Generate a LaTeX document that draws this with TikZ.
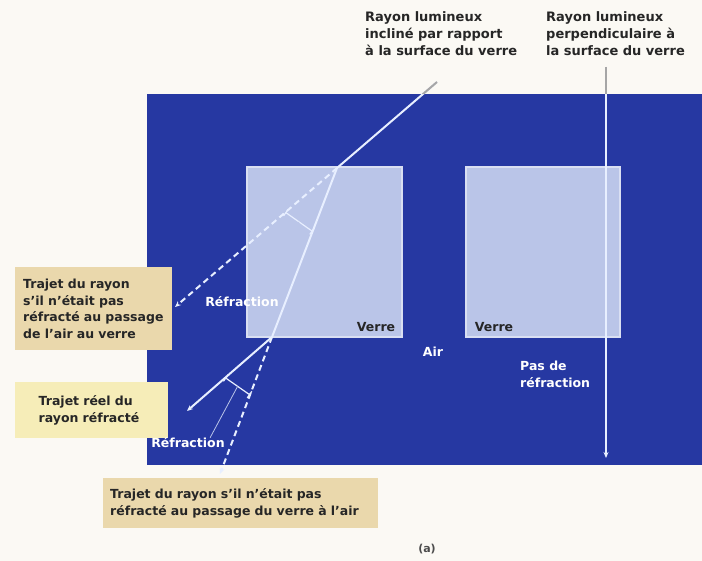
\documentclass[tikz,border=0pt]{standalone}
\usepackage{fontspec}
\setmainfont{DejaVu Sans}
\usetikzlibrary{calc, arrows.meta, positioning}
\tikzset{>={Stealth[length=6pt, width=5pt]}}
\definecolor{airblue}{RGB}{38,56,162}
\definecolor{glass}{RGB}{186,197,232}
\definecolor{paper}{RGB}{251,249,244}
\definecolor{tanbox}{RGB}{234,216,172}
\definecolor{yellowbox}{RGB}{246,237,184}
\definecolor{raywhite}{RGB}{232,239,255}
\tikzset{
  ray/.style={draw=raywhite, line width=2pt},
  ghostray/.style={ray, dash pattern=on 6pt off 4pt},
  anglemark/.style={draw=raywhite, line width=1.2pt, {Bar[width=8pt]}-{Bar[width=8pt]}},
  leader/.style={draw=glass, line width=0.8pt},
  darktext/.style={font=\fontsize{12.5}{16.5}\selectfont\bfseries, text=black!85, align=left},
  bluelabel/.style={font=\fontsize{12.5}{17}\selectfont\bfseries, text=white, align=left, inner sep=0pt},
  notebox/.style={darktext, anchor=north west, inner ysep=0pt},
}

\begin{document}
\begin{tikzpicture}[x=1pt, y=-1pt]
\useasboundingbox (0,0) rectangle (702,561);

% --- Background, air and glass ---
\fill[paper] (0,0) rectangle (702,561);
\fill[airblue] (147,94) rectangle (702,465);
\draw[glass!55!white, fill=glass, line width=1.5pt] (247,167) rectangle (402,337);
\draw[glass!55!white, fill=glass, line width=1.5pt] (466,167) rectangle (620,337);

% --- Note boxes ---
\node[notebox, fill=tanbox, minimum width=157pt, minimum height=83pt,
      text width=151pt, inner xsep=3pt] (notea) at (15,267)
      {\hspace*{5pt}Trajet du rayon\\\hspace*{5pt}s'il n'était pas\\\hspace*{5pt}réfracté au passage\\\hspace*{5pt}de l'air au verre};
\node[notebox, fill=yellowbox, minimum width=153pt, minimum height=56pt,
      text width=106pt, inner xsep=23.5pt] (noteb) at (15,382)
      {Trajet réel du\\rayon réfracté};
\node[notebox, fill=tanbox, minimum width=275pt, minimum height=50pt,
      text width=261pt, inner xsep=7pt] (notec) at (103,478)
      {Trajet du rayon s'il n'était pas\\réfracté au passage du verre à l'air};

% --- Ray points ---
\coordinate (src) at (437,82);
\coordinate (entry) at (337,168);
\coordinate (exit) at (272,337);
\coordinate (realend) at (187,411);
\coordinate (ghostA) at (175,307);
\coordinate (ghostB) at (220,474);
\coordinate (vtop) at (606,67);
\coordinate (vend) at (606,458);

% --- Inclined ray ---
\draw[ray] (src) -- (entry) -- (exit);
\draw[ray, ->] (exit) -- (realend);
\draw[ghostray, ->] (entry) -- (ghostA);
\draw[ghostray, ->] (exit) -- (ghostB);

% --- Perpendicular ray ---
\draw[ray, ->] (vtop) -- (vend);

% --- Parts of the rays over the paper ---
\begin{scope}
  \clip (0,0) rectangle (702,94);
  \draw[gray!70, line width=2pt] (src) -- (entry);
  \draw[gray!70, line width=2pt] (vtop) -- (vend);
\end{scope}

% --- Angle marks ---
\coordinate (mA1) at ($(entry)!68pt!(ghostA)$);
\coordinate (mA2) at ($(entry)!68pt!(exit)$);
\coordinate (mB1) at ($(exit)!62pt!(realend)$);
\coordinate (mB2) at ($(exit)!62pt!(ghostB)$);
\draw[anglemark] (mA1) -- (mA2);
\draw[anglemark] (mB1) -- (mB2);

% --- Labels ---
\node[darktext, anchor=north west, inner sep=0pt,
      font=\fontsize{13}{17}\selectfont\bfseries] (titlea) at (365,11)
      {Rayon lumineux\\incliné par rapport\\à la surface du verre};
\node[darktext, anchor=north west, inner sep=0pt,
      font=\fontsize{13}{17}\selectfont\bfseries] (titleb) at (546,11)
      {Rayon lumineux\\perpendiculaire à\\la surface du verre};

\node[bluelabel] (refra) at (242,302) {Réfraction};
\node[bluelabel] (refrb) at (188,443) {Réfraction};
\node[bluelabel] (air) at (433,352) {Air};
\node[bluelabel, anchor=north west] (nonrefr) at (520,361) {Pas de\\réfraction};
\node[bluelabel, text=black!85] (verrea) at (376,327) {Verre};
\node[bluelabel, text=black!85] (verreb) at (494,327) {Verre};

\draw[leader] ($(mA1)!0.5!(mA2)$) -- ($(refra.north)!0.6!(refra.north east)$);
\draw[leader] ($(mB1)!0.5!(mB2)$) -- ($(refrb.north)!0.6!(refrb.north east)$);

\node[font=\fontsize{11}{13}\selectfont\bfseries, text=black!70] (fig) at (427,549) {(a)};

\end{tikzpicture}
\end{document}
